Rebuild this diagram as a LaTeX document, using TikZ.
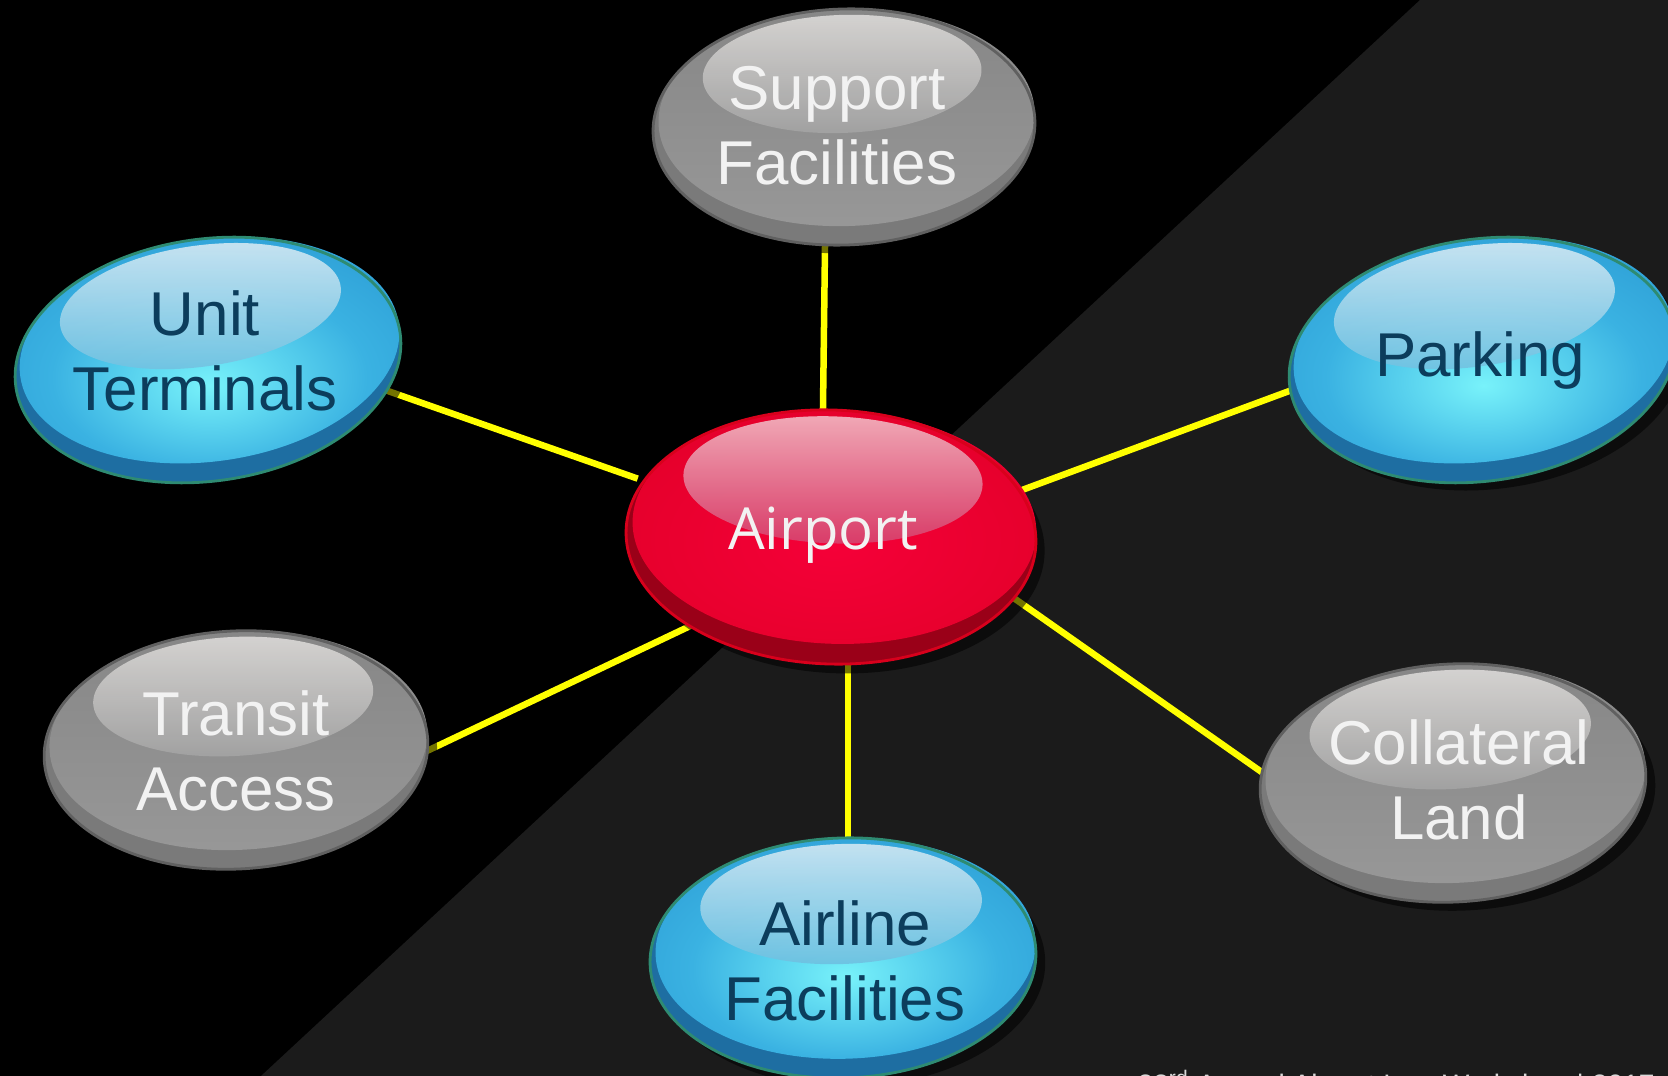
\documentclass[tikz,border=0pt]{standalone}
\usepackage{fontspec}
\setmainfont{Liberation Sans}
\newfontfamily\airfont{Open Sans}
\usetikzlibrary{calc}
\pgfdeclarelayer{bg}
\pgfdeclarelayer{lines}
\pgfsetlayers{bg,lines,main}

\definecolor{bggray}{HTML}{1B1B1B}
\definecolor{linkyellow}{HTML}{FFFF00}
\definecolor{bocenter}{HTML}{78F2FA}
\definecolor{bomid}{HTML}{3AB2E2}
\definecolor{boedge}{HTML}{1F88C8}
\definecolor{bocrest}{HTML}{1E6EA2}
\definecolor{borim}{HTML}{2E8B72}
\definecolor{bohlt}{HTML}{D2E8F3}
\definecolor{bohlb}{HTML}{6BBFE0}
\definecolor{gobot}{HTML}{A0A0A0}
\definecolor{gotop}{HTML}{7E7E7E}
\definecolor{gocrest}{HTML}{7A7A7A}
\definecolor{gorim}{HTML}{606060}
\definecolor{gohlt}{HTML}{DCDAD8}
\definecolor{gohlb}{HTML}{A2A2A2}
\definecolor{rocenter}{HTML}{F50038}
\definecolor{romid}{HTML}{E4002A}
\definecolor{roedge}{HTML}{CC001F}
\definecolor{rocrest}{HTML}{9A0018}
\definecolor{rorim}{HTML}{D8001C}
\definecolor{rohlt}{HTML}{F2BCC6}
\definecolor{rohlb}{HTML}{D6406C}
\definecolor{gtxt}{HTML}{F2F2F2}
\definecolor{btxt}{HTML}{0C3D5C}
\definecolor{foottxt}{HTML}{D9D9D9}

\pgfdeclareradialshading{bobody}{\pgfpoint{0bp}{-6bp}}{color(0bp)=(bocenter); color(20bp)=(bomid); color(48bp)=(boedge); color(70bp)=(boedge)}
\pgfdeclareradialshading{robody}{\pgfpoint{0bp}{-4bp}}{color(0bp)=(rocenter); color(30bp)=(romid); color(50bp)=(roedge); color(70bp)=(roedge)}
\pgfdeclareverticalshading{gobody}{100bp}{color(0bp)=(gobot); color(100bp)=(gotop)}

% #1 x, #2 y, #3 rx, #4 ry, #5 angle, #6 scheme prefix
\newcommand{\orbshape}[6]{%
  \begin{scope}[shift={(#1,#2)},rotate=#5]
    \fill[black,opacity=0.55] (9,9) ellipse ({#3} and {#4});
    \fill[#6crest] (0,0) ellipse ({#3} and {#4});
    \shade[shading=#6body] ({0.015*#3},{-0.08*#4}) ellipse ({0.985*#3} and {0.92*#4});
    \shade[top color=#6hlt, bottom color=#6hlb, fill opacity=0.9] (0,{-0.45*#4}) ellipse ({0.73*#3} and {0.5*#4});
    \draw[#6rim, line width=0.8pt] (0,0) ellipse ({#3} and {#4});
  \end{scope}}

\tikzset{
  orbtext/.style={align=center, inner sep=0pt, font=\fontsize{17.6}{21.3}\selectfont},
  gtext/.style={orbtext, text=gtxt},
  btext/.style={orbtext, text=btxt},
  rtext/.style={inner sep=0pt, font=\airfont\fontsize{16.5}{20}\selectfont, text=gtxt},
  link/.style={draw=linkyellow, line width=1.85pt, shorten <=-0.05cm, shorten >=-0.05cm},
  foot/.style={anchor=base west, inner sep=0pt, text=foottxt, font=\fontsize{8}{9.6}\selectfont}
}

\begin{document}
\begin{tikzpicture}[x=0.01cm, y=-0.01cm]
  \clip (0,0) rectangle (1668,1076);
  \begin{pgfonlayer}{bg}
    \fill[black] (0,0) rectangle (1668,1076);
    \fill[bggray] (1420,0) -- (1668,0) -- (1668,1076) -- (261,1076) -- cycle;
  \end{pgfonlayer}

  % orbs
  \orbshape{844}{127}{191}{118}{2}{go}
  \orbshape{208}{360}{194}{121}{8}{bo}
  \orbshape{1482}{360}{194}{121}{8}{bo}
  \orbshape{236}{750}{192}{119}{3}{go}
  \orbshape{1453}{783}{193}{119}{3}{go}
  \orbshape{843}{958}{193}{120}{2}{bo}
  \orbshape{831}{537}{205}{127}{-2}{ro}

  % labels
  \node[gtext] (sup) at (837,126) {Support\\Facilities};
  \node[btext] (unit) at (205,351) {Unit\\Terminals};
  \node[btext] (park) at (1480,361) {Parking};
  \node[gtext] (trans) at (236,751) {Transit\\Access};
  \node[gtext] (coll) at (1459,780) {Collateral\\Land};
  \node[btext] (airl) at (845,961) {Airline\\Facilities};
  \node[rtext] (air) at (823,535) {Airport};

  % connectors
  \begin{pgfonlayer}{lines}
    \draw[link] ($(air.center)+(0,-127)$) -- ($(sup.center)+(-12,121)$);
    \draw[link] ($(air.center)+(-190,-58)$) -- ($(unit.center)+(180,39)$);
    \draw[link] ($(air.center)+(191,-42)$) -- ($(park.center)+(-188,29)$);
    \draw[link] ($(air.center)+(-137,93)$) -- ($(trans.center)+(193,-1)$);
    \draw[link] ($(air.center)+(195,66)$) -- ($(coll.center)+(-196,-7)$);
    \draw[link] ($(air.center)+(25,127)$) -- ($(airl.center)+(3,-123)$);
  \end{pgfonlayer}

  % footer (clipped at the bottom edge, as in the reference)
  \node[foot] (footer) at (1137,1095) {23\textsuperscript{rd} Annual Airport Law Workshop | 2017};
\end{tikzpicture}
\end{document}
